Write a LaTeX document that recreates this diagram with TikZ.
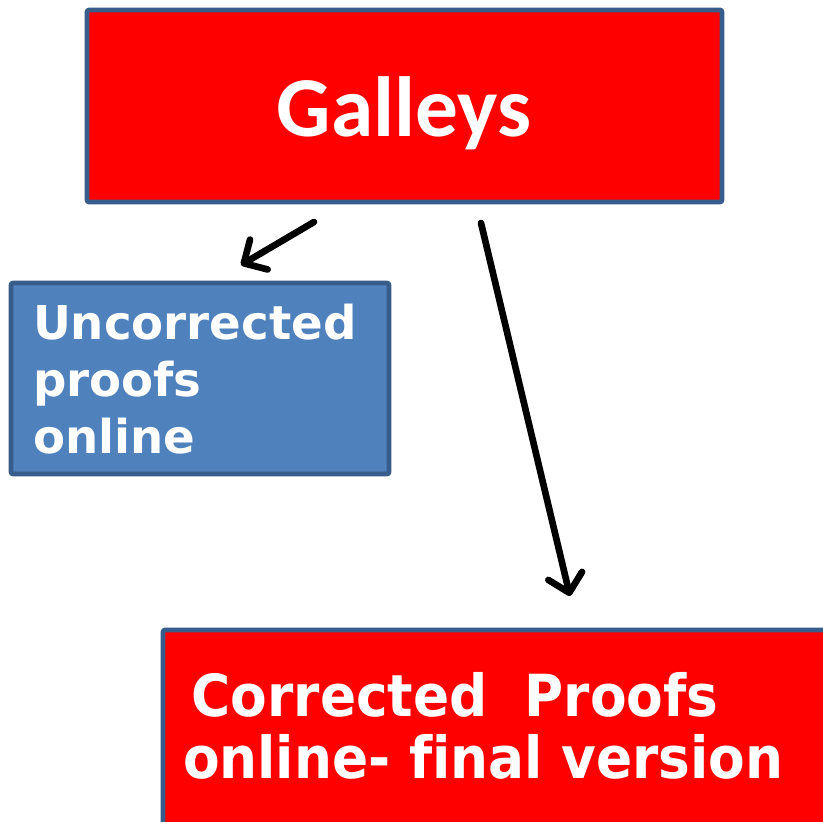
\documentclass[tikz,border=0pt]{standalone}
\usepackage{fontspec}
\usetikzlibrary{arrows.meta}
\newfontfamily\calib{Carlito}
\newfontfamily\dvs{DejaVu Sans}
\definecolor{pptred}{HTML}{FF0000}
\definecolor{pptblue}{HTML}{4F81BD}
\definecolor{pptborder}{HTML}{385D8A}
\begin{document}
\begin{tikzpicture}[x=0.75pt,y=-0.75pt,
  box/.style={draw=pptborder, line width=3.5pt, rounded corners=1.5pt, inner sep=0pt, outer sep=0pt, anchor=north west},
  lbl/.style={text=white, inner sep=0pt, outer sep=0pt, align=left},
  conn/.style={line width=5pt, line cap=round, -{Straight Barb[length=13pt,width=26pt,round]}}]
\useasboundingbox (0,0) rectangle (823,821);
\clip (0,0) rectangle (823,821);
\fill[white] (0,0) rectangle (823,821);
% boxes
\node[box, fill=pptred, minimum width=476.25pt, minimum height=144pt] (galleys) at (87,10) {};
\node[box, fill=pptblue, minimum width=283.5pt, minimum height=143.25pt] (uncorr) at (11,283) {};
\node[box, fill=pptred, minimum width=525pt, minimum height=165pt] (corr) at (163,630) {};
% labels
\node[lbl, anchor=base, font=\calib\bfseries\fontsize{64}{70}\selectfont] (gtext) at (404,136) {Galleys};
\node[lbl, anchor=base west, font=\dvs\bfseries\fontsize{35}{42.5}\selectfont] (utext) at (33,453) {Uncorrected\\proofs\\online};
\node[lbl, anchor=base west, font=\dvs\bfseries\fontsize{43.5}{46.5}\selectfont] (ctext) at (183,778)
  {\scalebox{0.92}[1]{\hspace*{7pt}Corrected\ \ Proofs}\\\scalebox{0.92}[1]{online- f\kern0pt inal version}};
% connectors
\coordinate (a1s) at (314,222);
\coordinate (a1e) at (241,265);
\coordinate (a2s) at (481,223);
\coordinate (a2e) at (570,596);
\draw[conn] (a1s) -- (a1e);
\draw[conn] (a2s) -- (a2e);
\end{tikzpicture}
\end{document}
